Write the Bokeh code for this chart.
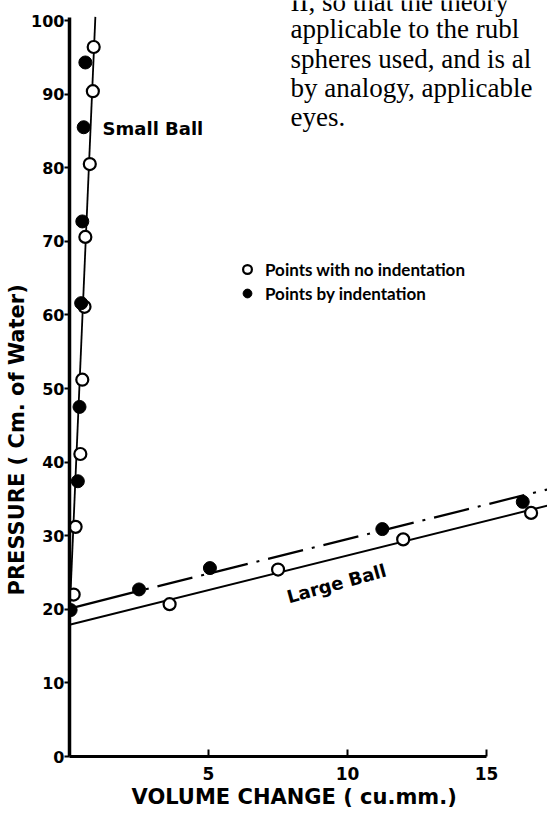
from bokeh.plotting import figure
from bokeh.models import FixedTicker, Label, Range1d, Legend, LegendItem, Title
from bokeh.embed import file_html
from bokeh.resources import INLINE

# ---- data ----
small_open_x = [0.87, 0.84, 0.73, 0.57, 0.54, 0.46, 0.39, 0.22, 0.15]
small_open_y = [96.4, 90.4, 80.5, 70.6, 61.1, 51.2, 41.1, 31.2, 22.0]
small_fill_x = [0.57, 0.51, 0.46, 0.42, 0.36, 0.30, 0.04]
small_fill_y = [94.3, 85.5, 72.7, 61.6, 47.5, 37.4, 19.9]

large_open_x = [3.6, 7.5, 12.0, 16.6]
large_open_y = [20.7, 25.4, 29.5, 33.1]
large_fill_x = [2.5, 5.05, 11.25, 16.3]
large_fill_y = [22.7, 25.6, 30.9, 34.6]

small_line_x = [0.0, 0.93]
small_line_y = [19.0, 100.5]
large_open_line_x = [0.0, 17.2]
large_open_line_y = [17.9, 34.1]
large_fill_solid_x = [0.0, 2.5]
large_fill_solid_y = [20.1, 22.5]
large_fill_dash_x = [2.5, 17.2]
large_fill_dash_y = [22.5, 36.3]

x_ticks = [5, 10, 15]
y_ticks = [0, 10, 20, 30, 40, 50, 60, 70, 80, 90, 100]

paragraph = [
    "II, so that the theory",
    "applicable to the rubl",
    "spheres used, and is al",
    "by analogy, applicable",
    "eyes.",
]

p = figure(width=547, height=816, output_backend="svg", toolbar_location=None,
           x_range=Range1d(0, 17.19), y_range=Range1d(0, 102.72),
           min_border_left=69, min_border_right=0, min_border_top=0,
           min_border_bottom=60, outline_line_color=None)
p.grid.visible = False
p.background_fill_color = "white"

# x axis (below)
xa = p.xaxis[0]
xa.ticker = FixedTicker(ticks=x_ticks)
xa.bounds = (0, 15)
xa.axis_line_width = 3
xa.axis_line_color = "black"
xa.major_tick_in = 7
xa.major_tick_out = 0
xa.major_tick_line_width = 2
xa.minor_tick_line_color = None
xa.major_label_standoff = 10
xa.major_label_text_font = "DejaVu Sans"
xa.major_label_text_font_style = "bold"
xa.major_label_text_font_size = "17px"
xa.major_label_text_color = "black"

# y axis (left)
ya = p.yaxis[0]
ya.ticker = FixedTicker(ticks=y_ticks)
ya.bounds = (0, 100.4)
ya.axis_line_width = 3.5
ya.axis_line_color = "black"
ya.major_tick_in = 0
ya.major_tick_out = 5
ya.major_tick_line_width = 2
ya.minor_tick_line_color = None
ya.major_label_standoff = 0
ya.major_label_text_font = "DejaVu Sans"
ya.major_label_text_font_style = "bold"
ya.major_label_text_font_size = "16px"
ya.major_label_text_color = "black"

# axis titles
p.add_layout(Title(text="PRESSURE ( Cm. of Water)", align="left", offset=161, standoff=0,
                   text_font="DejaVu Sans", text_font_style="bold", text_font_size="21px",
                   text_color="black"), "left")
p.add_layout(Title(text="VOLUME CHANGE ( cu.mm.)", align="left", offset=62, standoff=0,
                   text_font="DejaVu Sans", text_font_style="bold", text_font_size="21px",
                   text_color="black"), "below")

# fitted lines
p.line(small_line_x, small_line_y, line_color="black", line_width=1.8)
p.line(large_open_line_x, large_open_line_y, line_color="black", line_width=2)
p.line(large_fill_solid_x, large_fill_solid_y, line_color="black", line_width=2.2)
p.line(large_fill_dash_x, large_fill_dash_y, line_color="black", line_width=2.2,
       line_dash="36 9 3 9", line_dash_offset=38)

# points
r_open = p.scatter(small_open_x + large_open_x, small_open_y + large_open_y,
                   size=12, marker="circle", fill_color="white",
                   line_color="black", line_width=2.2)
r_fill = p.scatter(small_fill_x + large_fill_x, small_fill_y + large_fill_y,
                   size=13, marker="circle", fill_color="black",
                   line_color="black", line_width=1)

legend = Legend(items=[LegendItem(label="Points with no indentation", renderers=[r_open]),
                       LegendItem(label="Points by indentation", renderers=[r_fill])],
                location=(167, 452), orientation="vertical",
                glyph_width=22, glyph_height=22, label_height=20, spacing=2,
                padding=0, margin=0, label_standoff=7,
                border_line_color=None, background_fill_alpha=0,
                label_text_font="Lato", label_text_font_style="bold",
                label_text_font_size="17px", label_text_color="black")
p.add_layout(legend, "center")

# text labels
p.add_layout(Label(x=1.19, y=85.3, text="Small Ball", text_font="DejaVu Sans",
                   text_font_style="bold", text_font_size="18px",
                   text_baseline="middle", text_align="left", text_color="black"))
p.add_layout(Label(x=9.6, y=23.5, text="Large Ball", angle=0.27, text_font="DejaVu Sans",
                   text_font_style="bold", text_font_size="18px",
                   text_baseline="middle", text_align="center", text_color="black"))

para_y = [102.58, 98.84, 94.83, 90.83, 86.89]
for line_text, yy in zip(paragraph, para_y):
    p.add_layout(Label(x=7.95, y=yy, text=line_text, text_font="Liberation Serif",
                       text_font_size="27px", text_baseline="alphabetic",
                       text_align="left", text_color="black"))

open("out.html", "w").write(file_html(p, INLINE))
